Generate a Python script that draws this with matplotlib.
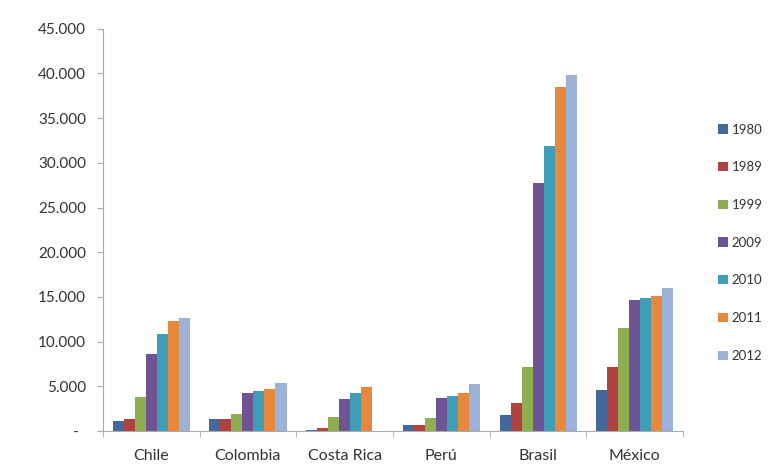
import numpy as np
import matplotlib.pyplot as plt
from matplotlib.ticker import FuncFormatter, FixedLocator

plt.rcParams['font.family'] = ['Lato', 'DejaVu Sans']

countries = ['Chile', 'Colombia', 'Costa Rica', 'Perú', 'Brasil', 'México']
years = ['1980', '1989', '1999', '2009', '2010', '2011', '2012']

v1980 = [1100, 1300, 100, 700, 1800, 4600]
v1989 = [1350, 1300, 300, 700, 3100, 7100]
v1999 = [3800, 1900, 1600, 1500, 7200, 11500]
v2009 = [8600, 4300, 3600, 3700, 27700, 14700]
v2010 = [10800, 4500, 4300, 3900, 31900, 14900]
v2011 = [12300, 4700, 4900, 4300, 38500, 15100]
v2012 = [12600, 5400, 0, 5200, 39800, 16000]
series = [v1980, v1989, v1999, v2009, v2010, v2011, v2012]

colors = ['#43699b', '#b0423f', '#8fae52', '#6f5493', '#3f9db8', '#e8883c', '#9bb1d6']

fig = plt.figure(figsize=(7.79, 4.72), dpi=100)
ax = fig.add_axes([0.132, 0.087, 0.745, 0.852])

x = np.arange(len(countries))
w = 0.114
for i, (vals, c, yr) in enumerate(zip(series, colors, years)):
    ax.bar(x + (i - 3) * w, vals, w, color=c, label=yr)

ax.set_xlim(-0.5, len(countries) - 0.5)
ax.set_ylim(0, 45000)
ax.set_yticks(np.arange(0, 45001, 5000))

def fmt(v, pos):
    if v == 0:
        return '-  '
    return f'{int(v):,}'.replace(',', '.')

ax.yaxis.set_major_formatter(FuncFormatter(fmt))
ax.set_xticks(x)
ax.set_xticklabels(countries)
ax.xaxis.set_minor_locator(FixedLocator(np.arange(-0.5, len(countries), 1)))
ax.tick_params(axis='x', which='major', length=0, pad=13, labelsize=11.5, colors='#333333')
ax.tick_params(axis='x', which='minor', length=4, color='#aaaaaa')
ax.tick_params(axis='y', length=4, color='#aaaaaa', labelsize=11, labelcolor='#333333', pad=8)

for s in ['top', 'right']:
    ax.spines[s].set_visible(False)
for s in ['left', 'bottom']:
    ax.spines[s].set_color('#aaaaaa')

leg = ax.legend(loc='center left', bbox_to_anchor=(1.04, 0.468), frameon=False,
                fontsize=9.5, handlelength=0.7, handleheight=0.7,
                handletextpad=0.3, labelspacing=1.95)
for t in leg.get_texts():
    t.set_color('#333333')

fig.savefig('out.png', dpi=100)
